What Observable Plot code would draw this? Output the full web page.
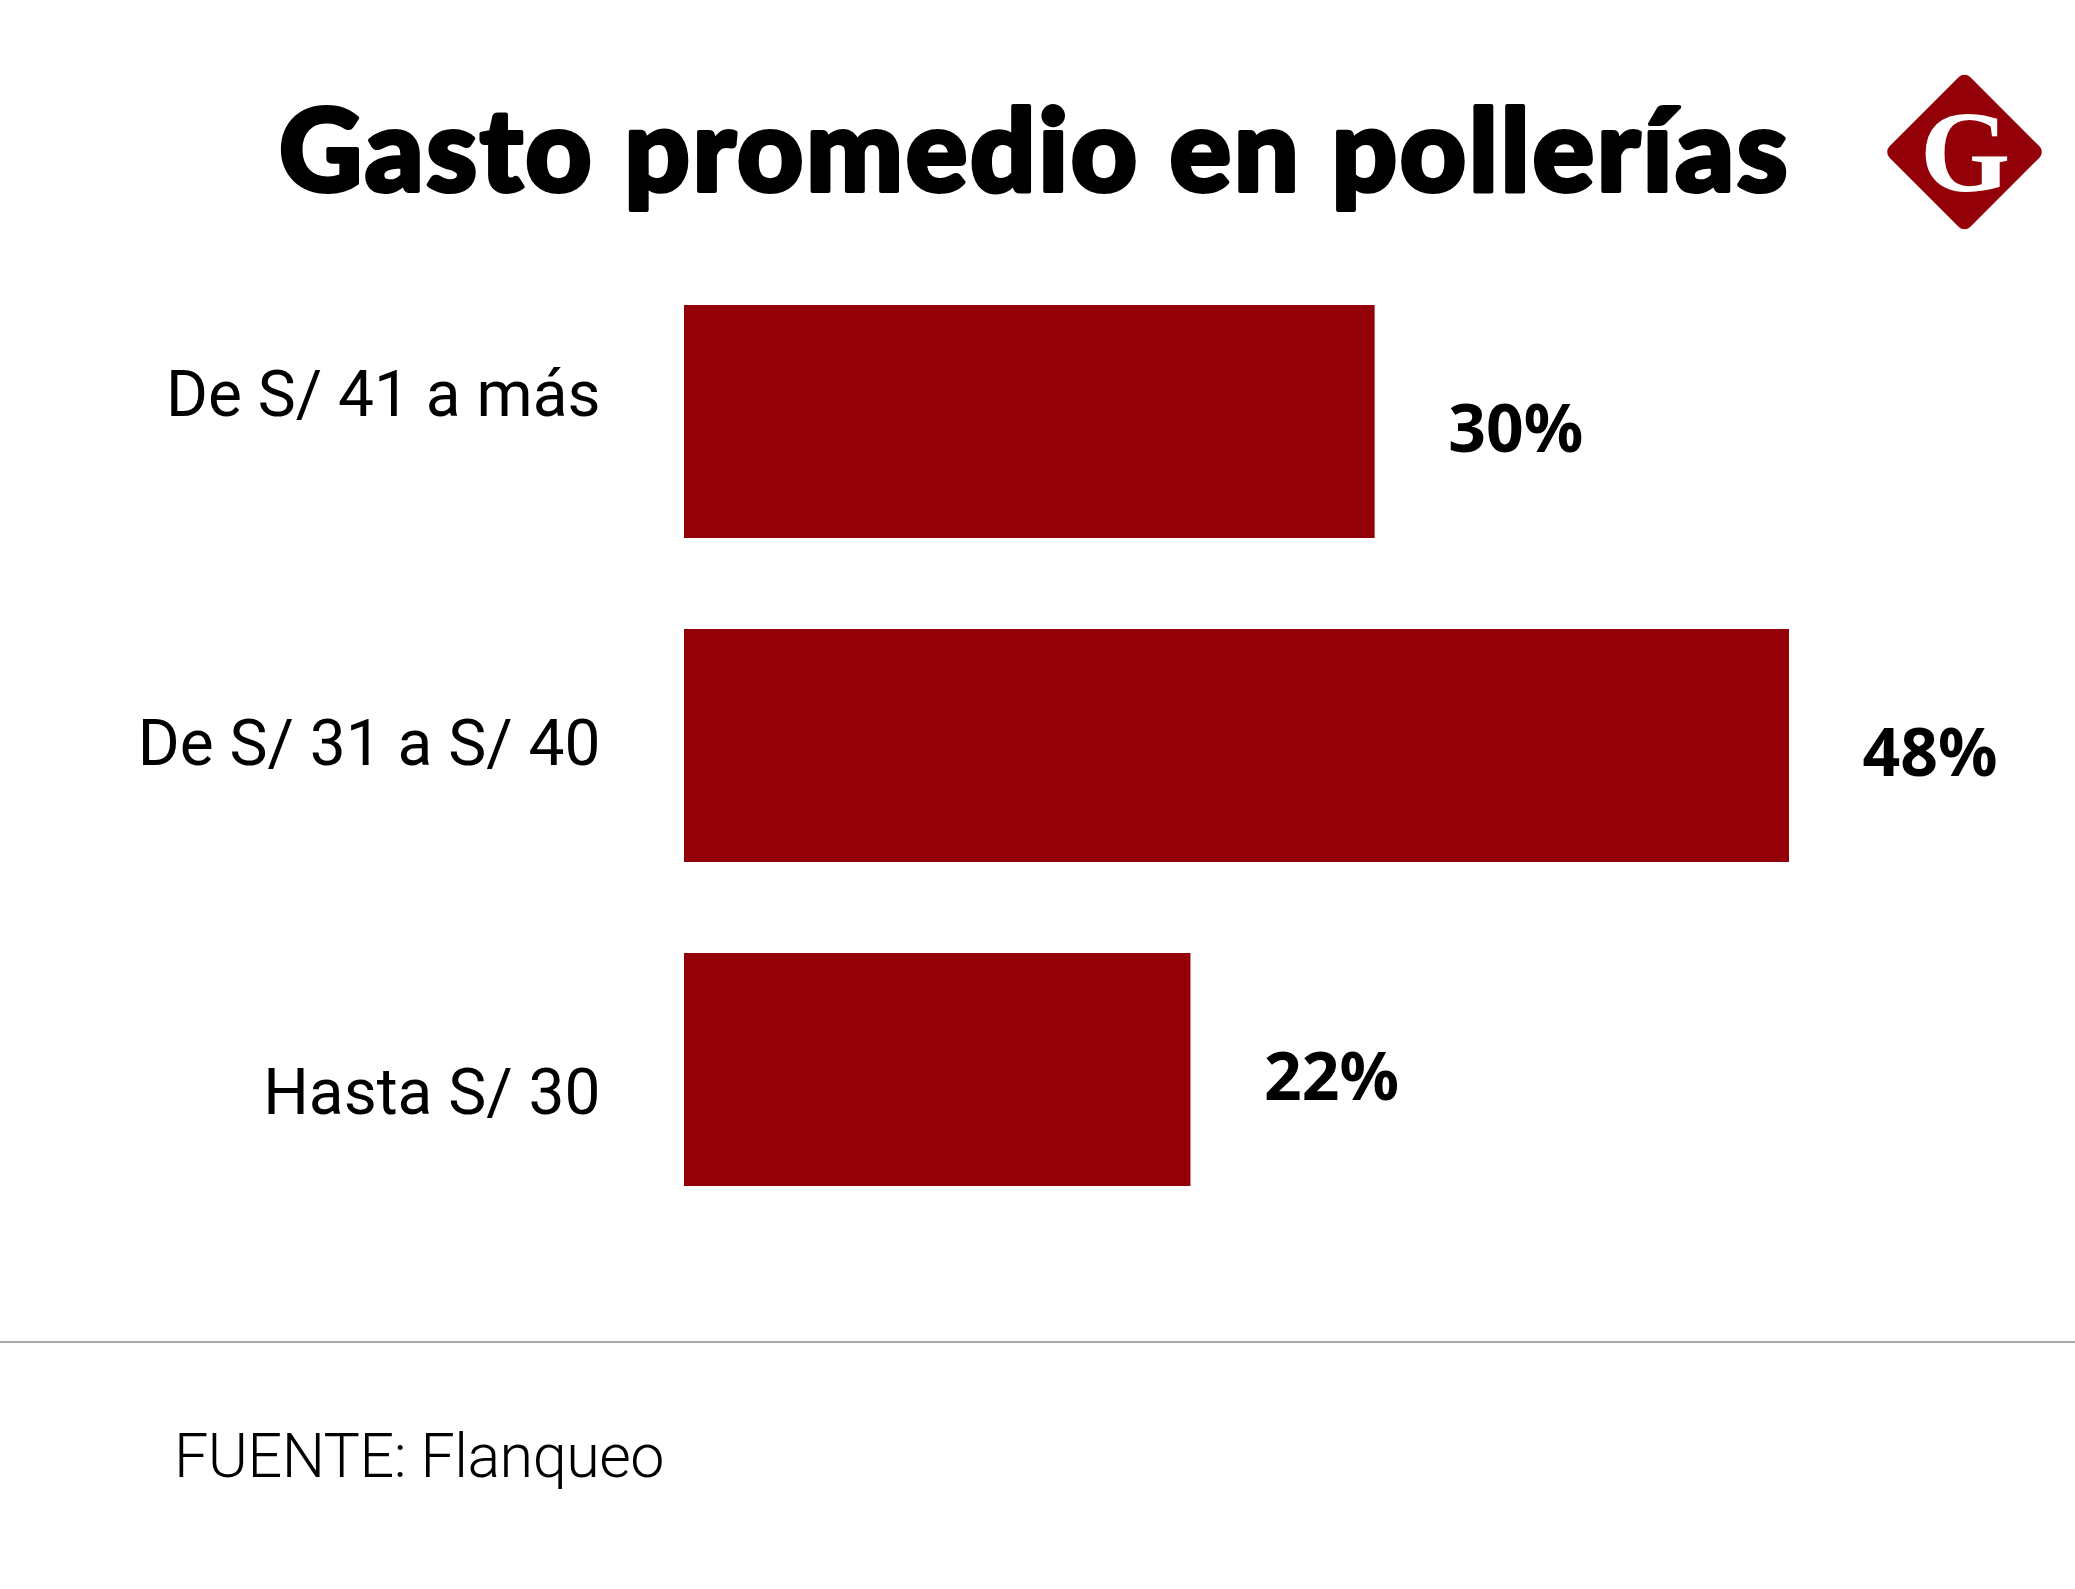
<!DOCTYPE html>
<html>
<head>
<meta charset="utf-8">
<script src="https://cdn.jsdelivr.net/npm/d3@7"></script>
<script src="https://cdn.jsdelivr.net/npm/@observablehq/plot@0.6"></script>
<style>
  html, body { margin: 0; padding: 0; background: #fff; }
  #page { position: relative; width: 2075px; height: 1589px; overflow: hidden; background: #fff; }
  #header { position: absolute; left: 0; top: 0; }
  #chart { position: absolute; left: 0; top: 200px; width: 2075px; height: 1100px; }
  #chart > svg, #chart > figure { position: absolute; left: 0; top: 0; margin: 0; }
  #footer { position: absolute; left: 0; top: 1300px; }
</style>
</head>
<body>
<div id="page">
  <svg id="header" width="2075" height="250" xmlns="http://www.w3.org/2000/svg">
    <text x="279" y="191" font-family="Lato" font-weight="900" font-size="115" letter-spacing="2.6" fill="#000" stroke="#000" stroke-width="4" stroke-linejoin="round">Gasto promedio en pollerías</text>
    <g transform="translate(1964.5,152) rotate(45)">
      <rect x="-57" y="-57" width="114" height="114" rx="8" ry="8" fill="#940007"></rect>
    </g>
    <text x="1965" y="191" text-anchor="middle" font-family="Liberation Serif" font-weight="700" font-size="116" fill="#fff">G</text>
  </svg>
  <div id="chart"></div>
  <svg id="footer" width="2075" height="289" xmlns="http://www.w3.org/2000/svg">
    <line x1="0" x2="2075" y1="42" y2="42" stroke="#a8a8a8" stroke-width="2"></line>
    <text x="174" y="177" font-family="Roboto" font-weight="300" font-size="61" letter-spacing="-0.5" fill="#000">FUENTE: Flanqueo</text>
  </svg>
</div>
<script>
const categories = ["De S/ 41 a más", "De S/ 31 a S/ 40", "Hasta S/ 30"];
const values = [30, 48, 22];
const valueLabels = ["30%", "48%", "22%"];

const rows = categories.map((c, i) => ({category: c, value: values[i], label: valueLabels[i]}));
const barColor = "#940007";

const chart = Plot.plot({
  width: 2075,
  height: 1100,
  marginLeft: 684,
  marginRight: 286,
  marginTop: 105,
  marginBottom: 113,
  style: {background: "transparent", fontFamily: "'Noto Sans', sans-serif"},
  x: {domain: [0, 48], axis: null},
  y: {domain: categories, paddingInner: 0.28, paddingOuter: 0, axis: null},
  marks: [
    Plot.barX(rows, {x: "value", y: "category", fill: barColor}),
    Plot.text(rows, {
      x: "value", y: "category", text: "label",
      textAnchor: "start", lineAnchor: "middle",
      dx: 73, dy: 9,
      fontSize: 66, fontWeight: 700, fill: "#000"
    })
  ]
});

const labels = Plot.plot({
  width: 2075,
  height: 1100,
  marginLeft: 600,
  marginRight: 286,
  marginTop: 20,
  marginBottom: 32,
  style: {background: "transparent", fontFamily: "Roboto, sans-serif", fontWeight: 400},
  y: {domain: categories, type: "band", padding: 0},
  marks: [
    Plot.axisY({tickSize: 0, tickPadding: 0, fontSize: 64, fill: "#000", label: null})
  ]
});

const host = document.getElementById("chart");
host.appendChild(chart);
host.appendChild(labels);
</script>
</body>
</html>
